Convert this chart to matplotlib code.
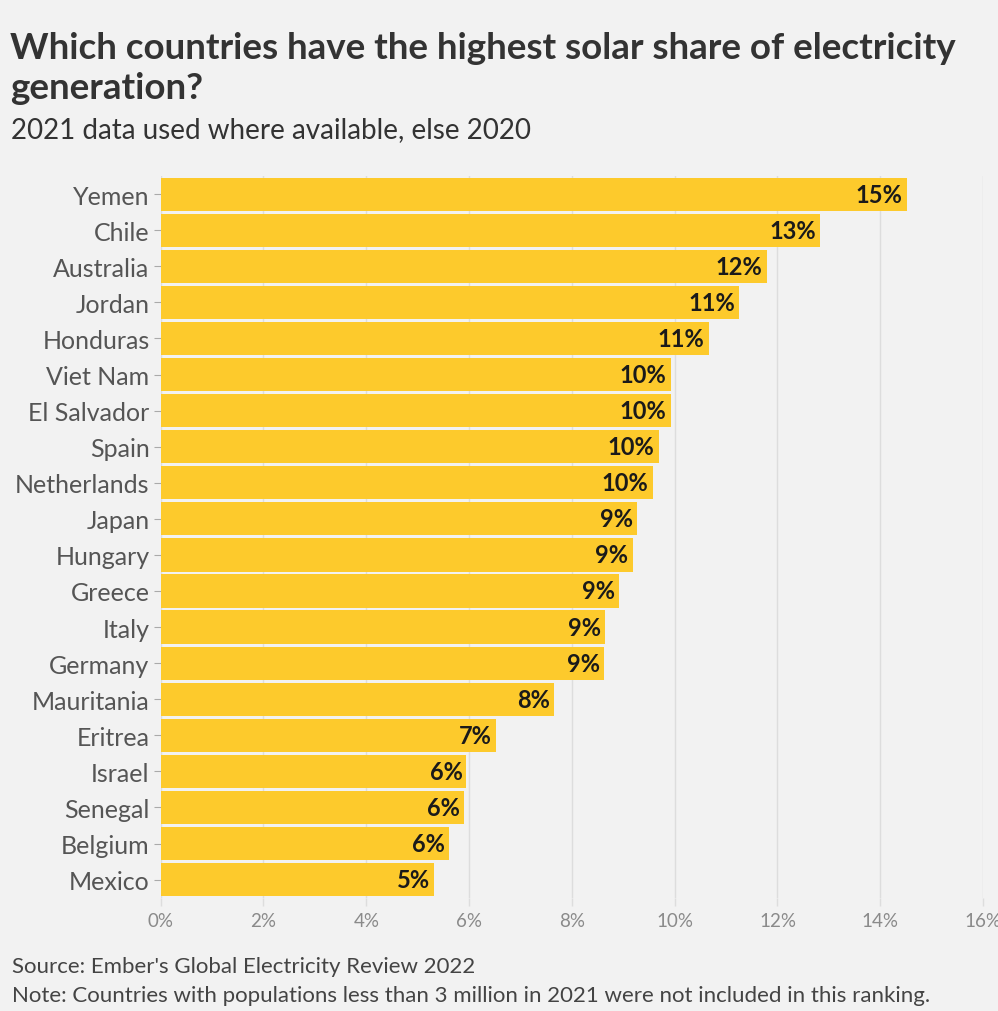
import matplotlib
matplotlib.use("Agg")
import matplotlib.pyplot as plt
from matplotlib.ticker import FuncFormatter

countries = ["Yemen", "Chile", "Australia", "Jordan", "Honduras", "Viet Nam",
             "El Salvador", "Spain", "Netherlands", "Japan", "Hungary", "Greece",
             "Italy", "Germany", "Mauritania", "Eritrea", "Israel", "Senegal",
             "Belgium", "Mexico"]
shares = [14.52, 12.83, 11.79, 11.25, 10.66, 9.92, 9.92, 9.69, 9.57, 9.26,
          9.18, 8.91, 8.65, 8.62, 7.66, 6.53, 5.95, 5.91, 5.61, 5.32]
x_ticks = [0, 2, 4, 6, 8, 10, 12, 14, 16]

BG = "#f2f2f2"
BAR = "#fdca2c"
FONT = "Lato"
plt.rcParams["font.family"] = [FONT, "DejaVu Sans"]

W, H = 998, 1012
fig = plt.figure(figsize=(W / 100, H / 100), dpi=100, facecolor=BG)
ax = fig.add_axes([0.161, 0.112, 0.824, 0.713], facecolor=BG)

y = list(range(len(countries)))
ax.barh(y, shares, height=0.92, color=BAR, edgecolor="none", zorder=2)
for yi, v in zip(y, shares):
    ax.text(v - 0.08, yi, f"{round(v):.0f}%", ha="right", va="center",
            fontsize=17, fontweight="bold", color="#1a1a1a", zorder=3)

ax.set_ylim(len(countries) - 0.5, -0.5)
ax.set_xlim(0, 16)
ax.set_yticks(y)
ax.set_yticklabels(countries, fontsize=18, color="#555555")
ax.set_xticks(x_ticks)
ax.xaxis.set_major_formatter(FuncFormatter(lambda v, p: f"{v:.0f}%"))
ax.tick_params(axis="x", labelsize=13.5, labelcolor="#8a8a8a", length=6,
               color="#dddddd", width=1, pad=4)
ax.tick_params(axis="y", length=5, color="#aaaaaa", width=0.8, pad=3)
ax.grid(axis="x", color="#dddddd", linewidth=1, zorder=1)
for s in ax.spines.values():
    s.set_visible(False)

def fy(px):
    return 1 - px / H

fig.text(0.010, fy(59), "Which countries have the highest solar share of electricity",
         fontsize=26.5, fontweight="bold", color="#333333", va="baseline", ha="left")
fig.text(0.010, fy(99), "generation?",
         fontsize=26.5, fontweight="bold", color="#333333", va="baseline", ha="left")
fig.text(0.011, fy(138), "2021 data used where available, else 2020",
         fontsize=20, color="#333333", va="baseline", ha="left")
fig.text(0.012, fy(973), "Source: Ember's Global Electricity Review 2022",
         fontsize=16, color="#444444", va="baseline", ha="left")
fig.text(0.012, fy(1002), "Note: Countries with populations less than 3 million in 2021 were not included in this ranking.",
         fontsize=16, color="#444444", va="baseline", ha="left")

fig.savefig("out.png", dpi=100, facecolor=BG)
